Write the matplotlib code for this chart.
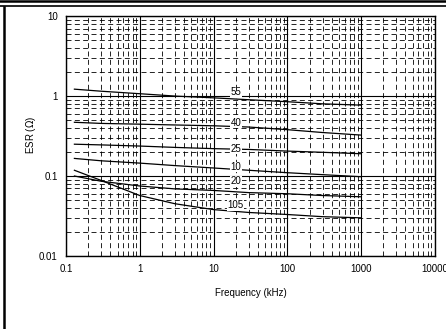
import numpy as np
import matplotlib
matplotlib.use("Agg")
import matplotlib.pyplot as plt
from matplotlib.lines import Line2D

plt.rcParams['font.family'] = ['Liberation Sans Narrow', 'Liberation Sans', 'DejaVu Sans']

# Data (frequency in kHz, ESR in ohm)
freq = [0.13, 0.3, 1, 3, 10, 30, 100, 300, 1000]
esr_55 = [1.22, 1.15, 1.07, 1.0, 0.95, 0.9, 0.85, 0.8, 0.77]
esr_40 = [0.47, 0.455, 0.445, 0.435, 0.425, 0.41, 0.38, 0.35, 0.325]
esr_25 = [0.25, 0.245, 0.237, 0.228, 0.22, 0.215, 0.205, 0.198, 0.19]
esr_10 = [0.166, 0.155, 0.145, 0.135, 0.126, 0.118, 0.11, 0.104, 0.098]
esr_20 = [0.1, 0.086, 0.075, 0.069, 0.066, 0.062, 0.06, 0.057, 0.055]
esr_105 = [0.118, 0.088, 0.057, 0.045, 0.038, 0.035, 0.033, 0.031, 0.03]
curve_labels = ['55', '40', '25', '10', '20', '105']
label_y = [1.12, 0.46, 0.22, 0.13, 0.086, 0.043]
x_ticks = [0.1, 1, 10, 100, 1000, 10000]
x_ticklabels = ['0.1', '1', '10', '100', '1000', '10000']
y_ticks = [0.01, 0.1, 1, 10]
y_ticklabels = ['0.01', '0.1', '1', '10']

fig = plt.figure(figsize=(4.46, 3.29), dpi=100)
ax = fig.add_axes([0.148, 0.222, 0.827, 0.729])

for s in [esr_55, esr_40, esr_25, esr_10, esr_20, esr_105]:
    ax.plot(freq, s, color='black', lw=0.9)

ax.set_xscale('log')
ax.set_yscale('log')
ax.set_xlim(0.1, 10000)
ax.set_ylim(0.01, 10)
ax.set_xticks(x_ticks)
ax.set_xticklabels(x_ticklabels)
ax.set_yticks(y_ticks)
ax.set_yticklabels(y_ticklabels)
ax.tick_params(which='both', length=0, labelsize=7, pad=6)

ax.grid(which='major', color='black', lw=0.8, ls='-')
ax.grid(which='minor', color='black', lw=0.6, ls=(0, (6, 4)))
for sp in ax.spines.values():
    sp.set_color('black')
    sp.set_linewidth(1.0)

for lab, y in zip(curve_labels, label_y):
    ax.text(20, y, lab, fontsize=7, ha='center', va='center',
            bbox=dict(facecolor='white', edgecolor='none', pad=0.3))

ax.set_xlabel('Frequency (kHz)', fontsize=7, labelpad=10)
ax.set_ylabel('ESR ($\\mathit{\\Omega}$)', fontsize=7)
ax.yaxis.set_label_coords(-0.076, 0.504)

# page frame lines
fig.add_artist(Line2D([0, 1], [0.997, 0.997], color='black', lw=1.8))
fig.add_artist(Line2D([0, 1], [0.983, 0.983], color='black', lw=1.2))
fig.add_artist(Line2D([0.009, 0.009], [0, 0.98], color='black', lw=1.8))

fig.savefig('out.png', dpi=100)
